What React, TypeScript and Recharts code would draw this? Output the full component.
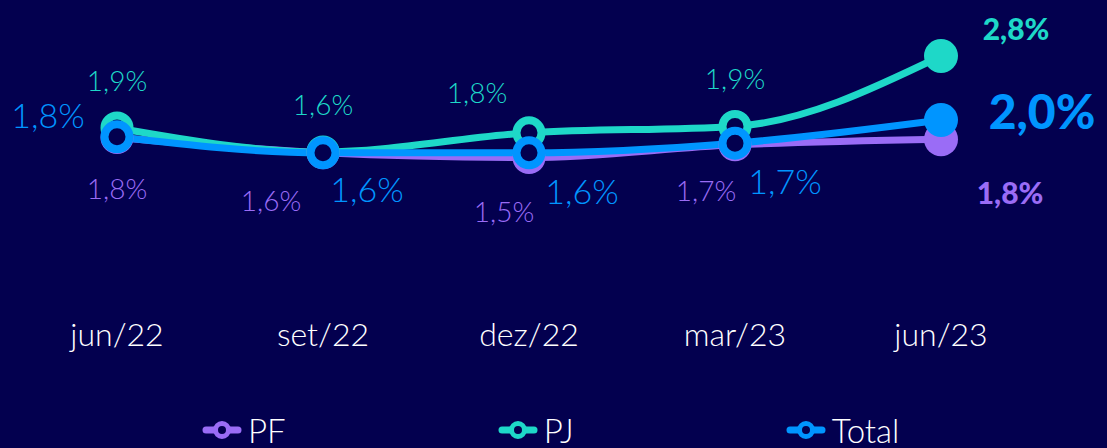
import React from "react"
import { LineChart, Line, XAxis, YAxis, Legend, LabelList } from "recharts"

const periods = ["jun/22", "set/22", "dez/22", "mar/23", "jun/23"]
const pfValues = [1.78, 1.59, 1.53, 1.69, 1.76]
const pjValues = [1.9, 1.6, 1.84, 1.92, 2.8]
const totalValues = [1.79, 1.59, 1.59, 1.71, 2.0]

const BG = "#03004f"
const PF_COLOR = "#9a6cf6"
const PJ_COLOR = "#1ed8c8"
const TOTAL_COLOR = "#0095ff"
const FONT = "Lato, 'Open Sans', sans-serif"

const data = periods.map((p, i) => ({
  name: p,
  PF: pfValues[i],
  PJ: pjValues[i],
  Total: totalValues[i],
}))

// label placement per point: [dx, dy, fontSize]
const pfLabelPos = [
  [0, 50, 28],
  [-52, 47, 28],
  [-25, 53, 28],
  [-29, 45, 28],
  [69, 53, 30],
]
const pjLabelPos = [
  [0, -48, 28],
  [0, -48, 28],
  [-52, -41, 28],
  [0, -48, 28],
  [75, -28, 30],
]
const totalLabelPos = [
  [-69, -22, 34],
  [44, 36, 34],
  [53, 38, 34],
  [50, 37, 34],
  [101, -10, 48],
]

const fmt = (v: number) => v.toFixed(1).replace(".", ",") + "%"

function makeLabel(color: string, pos: number[][]) {
  return (props: any) => {
    const { x, y, value, index } = props
    const [dx, dy, size] = pos[index]
    const last = index === pos.length - 1
    return (
      <text
        x={x + dx}
        y={y + dy}
        fill={color}
        fontSize={size}
        fontFamily={FONT}
        fontWeight={last ? 900 : 300}
        textAnchor="middle"
        dominantBaseline="central"
      >
        {fmt(value)}
      </text>
    )
  }
}

function makeDot(color: string) {
  return (props: any) => {
    const { cx, cy, index } = props
    if (index === periods.length - 1) {
      return <circle key={`d-${index}`} cx={cx} cy={cy} r={17} fill={color} />
    }
    return (
      <circle key={`d-${index}`} cx={cx} cy={cy} r={12.5} fill={BG} stroke={color} strokeWidth={8} />
    )
  }
}

const PeriodTick = (props: any) => {
  const { x, y, payload } = props
  return (
    <text
      x={x}
      y={y + 53}
      fill="#ffffff"
      fontSize={32}
      fontFamily={FONT}
      fontWeight={300}
      textAnchor="middle"
      dominantBaseline="central"
    >
      {payload.value}
    </text>
  )
}

const legendItems = [
  { name: "PF", color: PF_COLOR },
  { name: "PJ", color: PJ_COLOR },
  { name: "Total", color: TOTAL_COLOR },
]

const LegendContent = () => (
  <div
    style={{
      position: "absolute",
      left: 0,
      width: 1107,
      height: 36,
      display: "flex",
      justifyContent: "flex-start",
      alignItems: "center",
      gap: 212,
      paddingLeft: 202,
      boxSizing: "border-box",
    }}
  >
    {legendItems.map((it) => (
      <div key={it.name} style={{ display: "flex", alignItems: "center" }}>
        <svg width={40} height={22}>
          <line x1={4} y1={11} x2={36} y2={11} stroke={it.color} strokeWidth={7} strokeLinecap="round" />
          <circle cx={20} cy={11} r={6.5} fill={BG} stroke={it.color} strokeWidth={5} />
        </svg>
        <span
          style={{
            color: "#ffffff",
            fontFamily: FONT,
            fontWeight: 300,
            fontSize: 33,
            marginLeft: 6,
          }}
        >
          {it.name}
        </span>
      </div>
    ))}
  </div>
)

export default function App() {
  return (
    <div style={{ position: "absolute", left: 0, top: 0, width: 1107, height: 448, background: BG }}>
      <LineChart width={1107} height={448} data={data} margin={{ top: 40, right: 166, left: 117, bottom: 0 }}>
        <XAxis
          dataKey="name"
          axisLine={false}
          tickLine={false}
          tickSize={0}
          tickMargin={0}
          height={132}
          tick={<PeriodTick />}
          interval={0}
        />
        <YAxis hide domain={[0, 3]} />
        <Legend verticalAlign="bottom" content={<LegendContent />} wrapperStyle={{ left: 0, width: 1107, height: 36 }} />
        <Line
          type="monotone"
          dataKey="PF"
          stroke={PF_COLOR}
          strokeWidth={7}
          dot={makeDot(PF_COLOR)}
          activeDot={false}
          isAnimationActive={false}
        >
          <LabelList dataKey="PF" content={makeLabel(PF_COLOR, pfLabelPos)} />
        </Line>
        <Line
          type="monotone"
          dataKey="PJ"
          stroke={PJ_COLOR}
          strokeWidth={7}
          dot={makeDot(PJ_COLOR)}
          activeDot={false}
          isAnimationActive={false}
        >
          <LabelList dataKey="PJ" content={makeLabel(PJ_COLOR, pjLabelPos)} />
        </Line>
        <Line
          type="monotone"
          dataKey="Total"
          stroke={TOTAL_COLOR}
          strokeWidth={7}
          dot={makeDot(TOTAL_COLOR)}
          activeDot={false}
          isAnimationActive={false}
        >
          <LabelList dataKey="Total" content={makeLabel(TOTAL_COLOR, totalLabelPos)} />
        </Line>
      </LineChart>
    </div>
  )
}
